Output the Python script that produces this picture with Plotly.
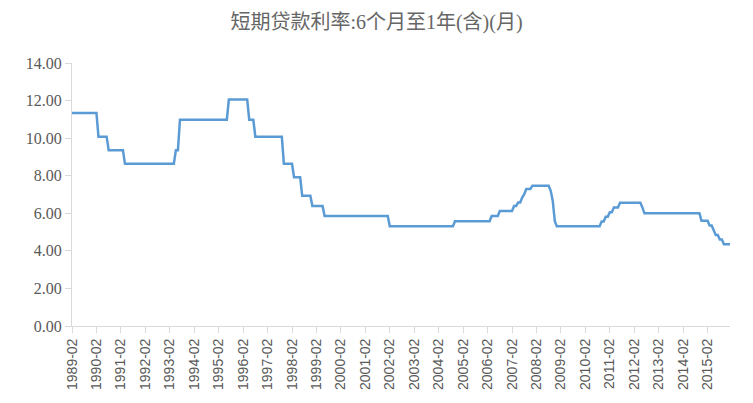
import plotly.graph_objects as go

# Change points of the benchmark rate (month when new rate is in effect at month end)
change_months = ["1989-02", "1990-03", "1990-08", "1991-04", "1993-05", "1993-07",
                 "1995-07", "1996-05", "1996-08", "1997-10", "1998-03", "1998-07",
                 "1998-12", "1999-06", "2002-02", "2004-10", "2006-04", "2006-08",
                 "2007-03", "2007-05", "2007-07", "2007-08", "2007-09", "2007-12",
                 "2008-09", "2008-10", "2008-11", "2008-12", "2010-10", "2010-12",
                 "2011-02", "2011-04", "2011-07", "2012-06", "2012-07", "2014-11",
                 "2015-03", "2015-05", "2015-06", "2015-08", "2015-10"]
change_rates = [11.34, 10.08, 9.36, 8.64, 9.36, 10.98,
                12.06, 10.98, 10.08, 8.64, 7.92, 6.93,
                6.39, 5.85, 5.31, 5.58, 5.85, 6.12,
                6.39, 6.57, 6.84, 7.02, 7.29, 7.47,
                7.20, 6.66, 5.58, 5.31, 5.56, 5.81,
                6.06, 6.31, 6.56, 6.31, 6.00, 5.60,
                5.35, 5.10, 4.85, 4.60, 4.35]
first_month = "1989-02"
last_month = "2016-01"

# Build the monthly category list and hold each rate until the next change
months = []
y0, m0 = map(int, first_month.split("-"))
y1, m1 = map(int, last_month.split("-"))
y, m = y0, m0
while (y, m) <= (y1, m1):
    months.append(f"{y:04d}-{m:02d}")
    m += 1
    if m > 12:
        m = 1
        y += 1
rate_by_change = dict(zip(change_months, change_rates))
values = []
cur = None
for mo in months:
    if mo in rate_by_change:
        cur = rate_by_change[mo]
    values.append(cur)

tick_labels = [mo for mo in months if mo.endswith("-02")]

fig = go.Figure()
fig.add_trace(go.Scatter(
    x=months, y=values, mode="lines",
    line=dict(color="#5b9bd5", width=2.5),
    hoverinfo="x+y", showlegend=False,
))

fig.update_layout(
    width=753, height=403,
    margin=dict(l=72, r=23, t=63, b=77),
    paper_bgcolor="white", plot_bgcolor="white",
    title=dict(text="短期贷款利率:6个月至1年(含)(月)",
               x=0.5, xanchor="center", y=1 - 22 / 403, yanchor="middle",
               yref="container",
               font=dict(family="Liberation Serif, Noto Sans CJK SC", size=20, color="#666666")),
)
fig.update_xaxes(
    type="category", range=[0, len(months) - 1],
    tickmode="array", tickvals=tick_labels, ticktext=tick_labels,
    tickangle=-90, ticks="outside", ticklen=6, tickcolor="#d9d9d9",
    showline=True, linecolor="#d9d9d9", linewidth=1,
    showgrid=False, zeroline=False,
    tickfont=dict(family="Liberation Sans, Noto Sans CJK SC", size=14, color="#595959"),
)
fig.update_yaxes(
    range=[0, 14], dtick=2, tickformat=".2f",
    ticks="outside", ticklen=6, tickcolor="#d9d9d9",
    showline=True, linecolor="#d9d9d9", linewidth=1,
    showgrid=False, zeroline=False,
    tickfont=dict(family="Liberation Serif", size=16, color="#595959"),
)

fig.write_html("out.html")
